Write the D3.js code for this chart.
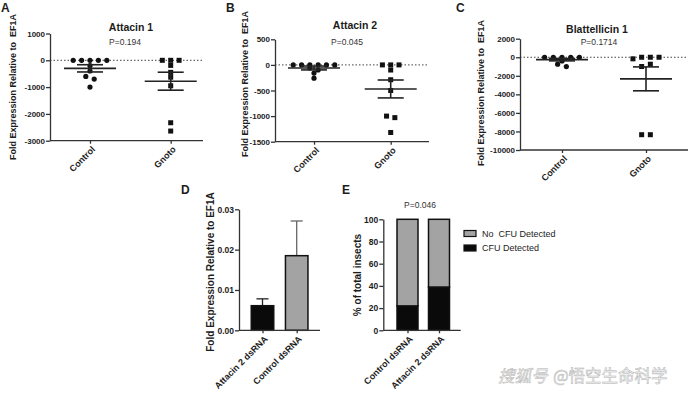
<!DOCTYPE html>
<html>
<head>
<meta charset="utf-8">
<script src="https://cdn.jsdelivr.net/npm/d3@7"></script>
<style>
  body { margin: 0; background: #fff; }
  svg { display: block; font-family: "Liberation Sans", Arial, sans-serif; }
</style>
</head>
<body>
<svg id="fig" width="690" height="395"></svg>
<script>
// --- data ---
const groups = ["Control", "Gnoto"];

// A: Attacin 1
const att1Control = [0, 0, 0, 0, 0, -200, -400, -600, -700, -1000];
const att1Gnoto = [0, 0, 0, -190, -450, -630, -950, -2330, -2640];
const att1Mean = [-300, -780];
const att1Sem = [135, 335];

// B: Attacin 2
const att2Control = [0, 0, 0, 0, 0, 0, -60, -100, -160, -260];
const att2Gnoto = [0, 0, 0, -100, -290, -500, -1000, -1030, -1320];
const att2Mean = [-60, -470];
const att2Sem = [38, 175];

// C: Blattellicin 1
const blaControl = [0, 0, 0, 0, 0, -400, -750, -1000];
const blaGnoto = [-170, 0, 0, 0, -1000, -750, -8350, -8350];
const blaMean = [-260, -2330];
const blaSem = [130, 1290];

// D: knockdown
const dsCats = ["Attacin 2 dsRNA", "Control dsRNA"];
const dsMean = [0.0061, 0.0185];
const dsSem = [0.0017, 0.0086];

// E: CFU
const cfuCats = ["Control dsRNA", "Attacin 2 dsRNA"];
const cfuDetected = [22, 39];
const cfuNone = [78, 61];
const cfuKeys = ["CFU Detected", "No\u00a0 CFU Detected"];

const ink = "#1c1c1c";
const axisCol = "#333";
const grayFill = "#a3a3a3";

const svg = d3.select("#fig");

function styleAxis(sel, size) {
  sel.selectAll("path, line").attr("stroke", axisCol).attr("stroke-width", 1.3);
  sel.selectAll("text").attr("fill", ink).attr("font-size", size).attr("font-weight", "bold");
}

function rotateLabels(sel) {
  sel.selectAll("text")
    .attr("x", 0).attr("y", 0).attr("dy", "0.35em")
    .attr("text-anchor", "end")
    .attr("transform", "translate(3,7) rotate(-45)");
}

// spread points that sit on (nearly) the same height into a row
function swarm(values, y, cx, step) {
  const pts = values.map((v, i) => ({ v, i, y: y(v) }));
  const rows = [];
  pts.slice().sort((a, b) => a.y - b.y || a.i - b.i).forEach(p => {
    const last = rows[rows.length - 1];
    if (last && p.y - last[0].y < 2.8) last.push(p); else rows.push([p]);
  });
  rows.forEach(r => {
    r.sort((a, b) => a.i - b.i);
    r.forEach((p, k) => { p.x = cx + (k - (r.length - 1) / 2) * step; });
  });
  return pts;
}

function scatterPanel(cfg) {
  const g = svg.append("g");
  const y = d3.scaleLinear().domain(cfg.yDomain).range([cfg.bottom, cfg.top]);
  const x = d3.scalePoint().domain(groups).range(cfg.xPos);

  g.append("text").attr("x", cfg.letter[0]).attr("y", cfg.letter[1])
    .attr("font-size", 12).attr("font-weight", "bold").attr("fill", ink).text(cfg.tag);
  g.append("text").attr("x", cfg.titleX).attr("y", cfg.titleY).attr("text-anchor", "middle")
    .attr("font-size", 10.5).attr("font-weight", "bold").attr("fill", ink).text(cfg.title);
  g.append("text").attr("x", cfg.pX).attr("y", cfg.pY).attr("text-anchor", "middle")
    .attr("font-size", 8.5).attr("fill", "#333").text(cfg.p);

  // zero reference line
  g.append("line")
    .attr("x1", cfg.left).attr("x2", cfg.right)
    .attr("y1", y(0)).attr("y2", y(0))
    .attr("stroke", "#444").attr("stroke-width", 1).attr("stroke-dasharray", "1.5,2");

  const ya = g.append("g").attr("transform", `translate(${cfg.left},0)`)
    .call(d3.axisLeft(y).tickValues(cfg.yTicks).tickSize(4).tickSizeOuter(0).tickPadding(1).tickFormat(d => String(d)));
  styleAxis(ya, 8);

  g.append("line").attr("x1", cfg.left).attr("x2", cfg.right)
    .attr("y1", cfg.bottom).attr("y2", cfg.bottom)
    .attr("stroke", axisCol).attr("stroke-width", 1.3);
  const xa = g.append("g").attr("transform", `translate(0,${cfg.bottom})`)
    .call(d3.axisBottom(x).tickSize(3).tickSizeOuter(0));
  xa.select(".domain").remove();
  styleAxis(xa, 9);
  rotateLabels(xa);

  g.append("text")
    .attr("transform", `translate(${cfg.yTitleX},${cfg.yTitleY}) rotate(-90)`)
    .attr("text-anchor", "middle").attr("font-size", 9).attr("font-weight", "bold").attr("fill", ink)
    .text("Fold Expression Relative to\u00a0 EF1A");

  const ctrl = swarm(cfg.control, y, x("Control"), cfg.step);
  const gno = swarm(cfg.gnoto, y, x("Gnoto"), cfg.step);

  g.selectAll("circle.pt").data(ctrl).join("circle").attr("class", "pt")
    .attr("cx", d => d.x).attr("cy", d => d.y).attr("r", 2.6).attr("fill", "#111");
  g.selectAll("rect.pt").data(gno).join("rect").attr("class", "pt")
    .attr("x", d => d.x - 2.5).attr("y", d => d.y - 2.5).attr("width", 5).attr("height", 5).attr("fill", "#111");

  // mean +- SEM
  groups.forEach((grp, i) => {
    const cx = x(grp), m = cfg.mean[i], s = cfg.sem[i];
    const bars = g.append("g").attr("stroke", "#222").attr("stroke-width", 1.6);
    bars.append("line").attr("x1", cx - 26).attr("x2", cx + 26).attr("y1", y(m)).attr("y2", y(m));
    bars.append("line").attr("x1", cx).attr("x2", cx).attr("y1", y(m + s)).attr("y2", y(m - s));
    [m + s, m - s].forEach(v => bars.append("line")
      .attr("x1", cx - 13).attr("x2", cx + 13).attr("y1", y(v)).attr("y2", y(v)));
  });
}

scatterPanel({
  tag: "A", letter: [1, 12], title: "Attacin 1", titleX: 131, titleY: 31, p: "P=0.194", pX: 125, pY: 45,
  left: 50, right: 203, top: 33.5, bottom: 140.7, xPos: [90, 170.7],
  yDomain: [-3000, 1000], yTicks: [1000, 0, -1000, -2000, -3000],
  yTitleX: 16, yTitleY: 87, step: 8.4,
  control: att1Control, gnoto: att1Gnoto, mean: att1Mean, sem: att1Sem
});

scatterPanel({
  tag: "B", letter: [226, 12], title: "Attacin 2", titleX: 355, titleY: 29, p: "P=0.045", pX: 347, pY: 45,
  left: 275, right: 429, top: 39.3, bottom: 141.7, xPos: [314, 390.7],
  yDomain: [-1500, 500], yTicks: [500, 0, -500, -1000, -1500],
  yTitleX: 248, yTitleY: 84, step: 8.3,
  control: att2Control, gnoto: att2Gnoto, mean: att2Mean, sem: att2Sem
});

scatterPanel({
  tag: "C", letter: [456, 12], title: "Blattellicin 1", titleX: 597, titleY: 33, p: "P=0.1714", pX: 599, pY: 45,
  left: 520, right: 688, top: 38.7, bottom: 150, xPos: [562, 646],
  yDomain: [-10000, 2000], yTicks: [2000, 0, -2000, -4000, -6000, -8000, -10000],
  yTitleX: 484, yTitleY: 93, step: 8.7,
  control: blaControl, gnoto: blaGnoto, mean: blaMean, sem: blaSem
});

// --- D: bar chart with SEM ---
(function () {
  const g = svg.append("g");
  const left = 239, right = 320, top = 209.3, bottom = 330.3;
  const y = d3.scaleLinear().domain([0, 0.03]).range([bottom, top]);
  const x = d3.scalePoint().domain(dsCats).range([262.5, 296.7]);
  const bw = 22.5;

  g.append("text").attr("x", 181).attr("y", 194).attr("font-size", 12).attr("font-weight", "bold").attr("fill", ink).text("D");

  // error bars (upper only)
  dsCats.forEach((c, i) => {
    const cx = x(c), col = i === 0 ? "#222" : "#666";
    g.append("line").attr("x1", cx).attr("x2", cx).attr("y1", y(dsMean[i])).attr("y2", y(dsMean[i] + dsSem[i]))
      .attr("stroke", col).attr("stroke-width", 1.3);
    g.append("line").attr("x1", cx - 6).attr("x2", cx + 6).attr("y1", y(dsMean[i] + dsSem[i])).attr("y2", y(dsMean[i] + dsSem[i]))
      .attr("stroke", col).attr("stroke-width", 1.3);
  });

  g.selectAll("rect.bar").data(dsMean).join("rect").attr("class", "bar")
    .attr("x", (d, i) => x(dsCats[i]) - bw / 2).attr("width", bw)
    .attr("y", d => y(d)).attr("height", d => bottom - y(d))
    .attr("fill", (d, i) => i === 0 ? "#0a0a0a" : grayFill)
    .attr("stroke", "#111").attr("stroke-width", 1.5);

  const ya = g.append("g").attr("transform", `translate(${left},0)`)
    .call(d3.axisLeft(y).tickValues([0, 0.01, 0.02, 0.03]).tickSize(4).tickSizeOuter(0).tickPadding(1).tickFormat(d3.format(".2f")));
  styleAxis(ya, 8.5);

  g.append("line").attr("x1", left).attr("x2", right).attr("y1", bottom).attr("y2", bottom)
    .attr("stroke", axisCol).attr("stroke-width", 1.3);
  const xa = g.append("g").attr("transform", `translate(0,${bottom})`)
    .call(d3.axisBottom(x).tickSize(3).tickSizeOuter(0));
  xa.select(".domain").remove();
  styleAxis(xa, 9);
  rotateLabels(xa);

  g.append("text").attr("transform", `translate(214,272) rotate(-90)`)
    .attr("text-anchor", "middle").attr("font-size", 10).attr("font-weight", "bold").attr("fill", ink)
    .text("Fold Expression Relative to EF1A");
})();

// --- E: stacked percentages ---
(function () {
  const g = svg.append("g");
  const left = 383.3, right = 460.7, top = 219.3, bottom = 330.3;
  const y = d3.scaleLinear().domain([0, 100]).range([bottom, top]);
  const x = d3.scalePoint().domain(cfuCats).range([407.5, 439]);
  const bw = 21;

  const rows = cfuCats.map((c, i) => ({ cat: c, [cfuKeys[0]]: cfuDetected[i], [cfuKeys[1]]: cfuNone[i] }));
  const series = d3.stack().keys(cfuKeys)(rows);
  const fills = { [cfuKeys[0]]: "#0a0a0a", [cfuKeys[1]]: grayFill };

  g.append("text").attr("x", 342).attr("y", 194).attr("font-size", 12).attr("font-weight", "bold").attr("fill", ink).text("E");
  g.append("text").attr("x", 420).attr("y", 208).attr("text-anchor", "middle").attr("font-size", 8.5).attr("fill", "#333").text("P=0.046");

  g.selectAll("g.layer").data(series).join("g").attr("class", "layer")
    .attr("fill", d => fills[d.key])
    .selectAll("rect").data(d => d).join("rect")
    .attr("x", d => x(d.data.cat) - bw / 2).attr("width", bw)
    .attr("y", d => y(d[1])).attr("height", d => y(d[0]) - y(d[1]))
    .attr("stroke", "#111").attr("stroke-width", 1.5);

  const ya = g.append("g").attr("transform", `translate(${left},0)`)
    .call(d3.axisLeft(y).tickValues([0, 20, 40, 60, 80, 100]).tickSize(4).tickSizeOuter(0).tickPadding(1));
  styleAxis(ya, 8.5);

  g.append("line").attr("x1", left).attr("x2", right).attr("y1", bottom).attr("y2", bottom)
    .attr("stroke", axisCol).attr("stroke-width", 1.3);
  const xa = g.append("g").attr("transform", `translate(0,${bottom})`)
    .call(d3.axisBottom(x).tickSize(3).tickSizeOuter(0));
  xa.select(".domain").remove();
  styleAxis(xa, 9);
  rotateLabels(xa);

  g.append("text").attr("transform", `translate(361,275) rotate(-90)`)
    .attr("text-anchor", "middle").attr("font-size", 10).attr("font-weight", "bold").attr("fill", ink)
    .text("% of total insects");

  // legend
  const legendKeys = cfuKeys.slice().reverse();
  const lg = g.append("g").attr("transform", "translate(464,233.5)");
  legendKeys.forEach((k, i) => {
    lg.append("rect").attr("x", 0).attr("y", i * 14.5 - 3).attr("width", 12).attr("height", 6)
      .attr("fill", fills[k]).attr("stroke", "#111").attr("stroke-width", 1.2);
    lg.append("text").attr("x", 18).attr("y", i * 14.5).attr("dy", "0.35em")
      .attr("font-size", 9).attr("fill", ink).text(k);
  });
})();

// watermark
const wm = svg.append("g").attr("font-family", "'Noto Sans CJK SC', sans-serif").attr("font-size", 16.5)
  .attr("fill", "#f4f4f4").attr("stroke", "#b4b4b4").attr("stroke-width", 0.5);
wm.append("text").attr("x", 498).attr("y", 382).attr("font-style", "italic").text("搜狐号");
wm.append("text").attr("x", 553).attr("y", 382).text("@悟空生命科学");
</script>
</body>
</html>
